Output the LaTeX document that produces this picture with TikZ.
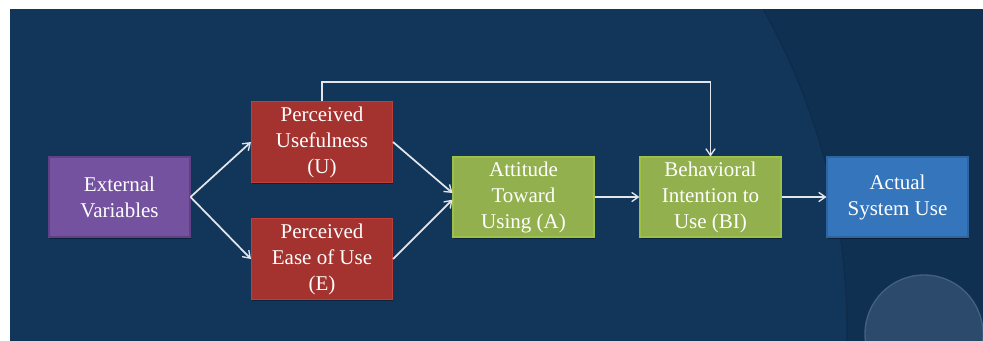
\documentclass[tikz,border=0pt]{standalone}
\usepackage{fontspec}
\setmainfont{Liberation Serif}
\newfontfamily\boxfont{Liberation Serif}
\usetikzlibrary{arrows.meta,calc,shadows}

\definecolor{bgin}{HTML}{12365A}
\definecolor{bgout}{HTML}{103052}
\definecolor{bgrim}{HTML}{0E2C4C}
\definecolor{bubble}{HTML}{2B4A6C}
\definecolor{bubblerim}{HTML}{44607F}
\definecolor{extfill}{HTML}{7452A0}
\definecolor{extline}{HTML}{5F4187}
\definecolor{redfill}{HTML}{A4322F}
\definecolor{redline}{HTML}{C03E38}
\definecolor{greenfill}{HTML}{93B04F}
\definecolor{greenline}{HTML}{9DC147}
\definecolor{bluefill}{HTML}{3475BC}
\definecolor{blueline}{HTML}{2F64A0}
\definecolor{wire}{HTML}{E2E6EC}

\tikzset{
  box/.style={rectangle, minimum width=105.75pt, minimum height=60pt,
    inner sep=2pt, align=center, text=white, line width=0.8pt,
    font=\boxfont\fontsize{15.75}{19.5}\selectfont,
    drop shadow={shadow xshift=0.6pt, shadow yshift=-1.2pt, fill=black, opacity=0.35}},
  extbox/.style={box, fill=extfill, draw=extline},
  redbox/.style={box, fill=redfill, draw=redline, minimum height=61pt},
  greenbox/.style={box, fill=greenfill, draw=greenline},
  bluebox/.style={box, fill=bluefill, draw=blueline},
  link/.style={draw=wire, line width=1.3pt,
    -{Straight Barb[length=5pt,width=7pt,line width=1pt]}},
}

\begin{document}
\begin{tikzpicture}[x=0.75pt,y=-0.75pt]
  \useasboundingbox (0,0) rectangle (983,340);

  % slide background with the large arc and the small bubble
  \begin{scope}
    \clip (10,9) rectangle (995,352);
    \fill[bgout] (10,9) rectangle (995,352);
    \fill[bgin] (192,330) circle[radius=655];
    \draw[bgrim, line width=1pt] (192,330) circle[radius=655];
    \fill[bubble] (924,334) circle[radius=59];
    \draw[bubblerim, line width=1pt] (924,334) circle[radius=59];
  \end{scope}

  % boxes
  \node[extbox]   (ext)  at (119.5,197) {External\\Variables};
  \node[redbox]   (pu)   at (322,142)   {Perceived\\Usefulness\\(U)};
  \node[redbox]   (peou) at (322,259)   {Perceived\\Ease of Use\\(E)};
  \node[greenbox] (att)  at (523.5,197) {Attitude\\Toward\\Using (A)};
  \node[greenbox] (bi)   at (710.5,197) {Behavioral\\Intention to\\Use (BI)};
  \node[bluebox]  (use)  at (897.5,197) {Actual\\System Use};

  % connectors
  \draw[link] (ext.east) -- (pu.west);
  \draw[link] (ext.east) -- (peou.west);
  \draw[link] (pu.east) -- ([yshift=3pt]att.west);
  \draw[link] (peou.east) -- ([yshift=-2pt]att.west);
  \draw[link] (att.east) -- (bi.west);
  \draw[link] (bi.east) -- (use.west);
  \draw[link] (pu.north) -- ++(0,-19) -| (bi.north);
\end{tikzpicture}
\end{document}
